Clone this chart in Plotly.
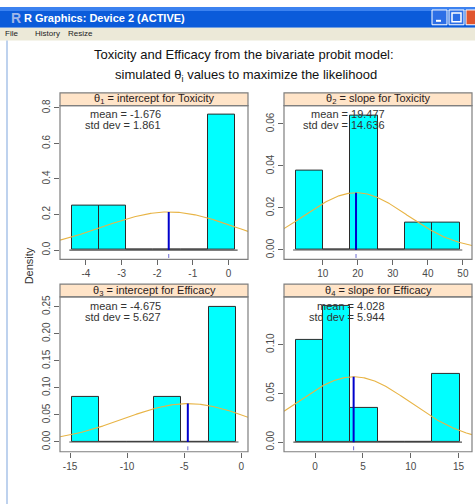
import numpy as np
import plotly.graph_objects as go

W, H = 475, 504

# ---------------- data ----------------
strip_titles = [
    "θ<sub>1</sub> = intercept for Toxicity",
    "θ<sub>2</sub> = slope for Toxicity",
    "θ<sub>3</sub> = intercept for Efficacy",
    "θ<sub>4</sub> = slope for Efficacy",
]
means = [-1.676, 19.477, -4.675, 4.028]
sds = [1.861, 14.636, 5.627, 5.944]

tl_edges = [-4.40, -3.635, -2.87, -2.105, -1.34, -0.575, 0.19]
tl_density = [0.25, 0.25, 0.0, 0.0, 0.0, 0.76]
tr_edges = [2.2, 10.02, 17.84, 25.66, 33.48, 41.30, 49.12]
tr_density = [0.038, 0.0, 0.064, 0.0, 0.0128, 0.0128]
bl_edges = [-14.85, -12.45, -10.05, -7.65, -5.25, -2.85, -0.45]
bl_density = [0.0833, 0.0, 0.0, 0.0833, 0.0, 0.25]
br_edges = [-2.02, 0.833, 3.686, 6.539, 9.392, 12.245, 15.098]
br_density = [0.105, 0.14, 0.035, 0.0, 0.0, 0.07]

tl_xticks = [-4, -3, -2, -1, 0]
tr_xticks = [10, 20, 30, 40, 50]
bl_xticks = [-15, -10, -5, 0]
br_xticks = [0, 5, 10, 15]
tl_yticks = [0.0, 0.2, 0.4, 0.6, 0.8]
tr_yticks = [0.00, 0.02, 0.04, 0.06]
bl_yticks = [0.00, 0.05, 0.10, 0.15, 0.20, 0.25]
br_yticks = [0.00, 0.05, 0.10]

# ---------------- layout geometry (pixels) ----------------
panels = [
    dict(edges=tl_edges, dens=tl_density, xt=tl_xticks, yt=tl_yticks, yfmt="%.1f",
         x0=60, x1=248, ytop=100, ybot=256, strip=87, xr=[-4.73, 0.55], yr=[-0.053, 0.813]),
    dict(edges=tr_edges, dens=tr_density, xt=tr_xticks, yt=tr_yticks, yfmt="%.2f",
         x0=284, x1=472, ytop=100, ybot=256, strip=87, xr=[-1.09, 52.6], yr=[-0.0045, 0.0687]),
    dict(edges=bl_edges, dens=bl_density, xt=bl_xticks, yt=bl_yticks, yfmt="%.2f",
         x0=60, x1=248, ytop=294, ybot=451, strip=281, xr=[-15.88, 0.6], yr=[-0.018, 0.268]),
    dict(edges=br_edges, dens=br_density, xt=br_xticks, yt=br_yticks, yfmt="%.2f",
         x0=284, x1=472, ytop=294, ybot=451, strip=281, xr=[-3.25, 16.4], yr=[-0.0098, 0.149]),
]

def px(x):
    return x / W

def py(y):
    return 1 - y / H

FONT = "Liberation Sans, Arial, sans-serif"
fig = go.Figure()
shapes = []
annotations = []
layout_axes = {}

for i, p in enumerate(panels):
    k = "" if i == 0 else str(i + 1)
    xa, ya = "x" + k, "y" + k
    edges = np.array(p["edges"])
    centers = (edges[:-1] + edges[1:]) / 2
    widths = edges[1:] - edges[:-1]
    # histogram bars
    fig.add_trace(go.Bar(x=centers, y=p["dens"], width=widths, xaxis=xa, yaxis=ya,
                         marker=dict(color="#00FFFF", line=dict(color="#2b2b2b", width=1)),
                         showlegend=False, hoverinfo="skip"))
    # baseline
    ext = 0.015 * (edges[-1] - edges[0])
    fig.add_trace(go.Scatter(x=[edges[0] - ext, edges[-1] + ext], y=[0, 0], mode="lines",
                             line=dict(color="#555555", width=1.2), xaxis=xa, yaxis=ya,
                             showlegend=False, hoverinfo="skip"))
    # normal density with the panel's mean and sd
    m, s = means[i], sds[i]
    xs = np.linspace(p["xr"][0], p["xr"][1], 200)
    ys = np.exp(-0.5 * ((xs - m) / s) ** 2) / (s * np.sqrt(2 * np.pi))
    fig.add_trace(go.Scatter(x=xs, y=ys, mode="lines", line=dict(color="#E8B445", width=1.1),
                             xaxis=xa, yaxis=ya, showlegend=False, hoverinfo="skip"))
    peak = 1 / (s * np.sqrt(2 * np.pi))
    fig.add_trace(go.Scatter(x=[m, m], y=[0, peak], mode="lines",
                             line=dict(color="#0000CC", width=2),
                             xaxis=xa, yaxis=ya, showlegend=False, hoverinfo="skip"))
    # rug tick at the mean
    shapes.append(dict(type="line", xref=xa, yref="paper", x0=m, x1=m,
                       y0=py(p["ybot"] - 1.5), y1=py(p["ybot"] - 5.5),
                       line=dict(color="#6a6ad0", width=1)))

    layout_axes["xaxis" + k] = dict(
        domain=[px(p["x0"]), px(p["x1"])], range=p["xr"], anchor=ya,
        tickvals=p["xt"], ticktext=[str(v) for v in p["xt"]],
        ticks="outside", ticklen=5, tickcolor="#666666", showline=False,
        showgrid=False, zeroline=False, fixedrange=True,
        tickfont=dict(family=FONT, size=10, color="#4a4a4a"))
    layout_axes["yaxis" + k] = dict(
        domain=[py(p["ybot"]), py(p["ytop"])], range=p["yr"], anchor=xa,
        tickvals=p["yt"], ticktext=[p["yfmt"] % v for v in p["yt"]], tickangle=-90,
        ticks="outside", ticklen=5, tickcolor="#666666", showline=False,
        showgrid=False, zeroline=False, fixedrange=True,
        tickfont=dict(family=FONT, size=10, color="#4a4a4a"))

    # panel border
    shapes.append(dict(type="rect", xref="paper", yref="paper",
                       x0=px(p["x0"]), x1=px(p["x1"]), y0=py(p["ybot"]), y1=py(p["ytop"]),
                       line=dict(color="#7f7f7f", width=1.2), fillcolor="rgba(0,0,0,0)"))
    # strip
    shapes.append(dict(type="rect", xref="paper", yref="paper",
                       x0=px(p["x0"]), x1=px(p["x1"]), y0=py(p["ytop"]), y1=py(p["strip"]),
                       line=dict(color="#7f7f7f", width=1.2), fillcolor="#FFE4C8", layer="below"))
    annotations.append(dict(text=strip_titles[i], xref="paper", yref="paper",
                            x=px((p["x0"] + p["x1"]) / 2), y=py((p["strip"] + p["ytop"]) / 2),
                            showarrow=False, xanchor="center", yanchor="middle",
                            font=dict(family=FONT, size=11, color="#2a2020")))
    # mean / sd text
    xr_text = px(p["x0"] + 0.546 * (p["x1"] - p["x0"]))
    annotations.append(dict(text="mean = %.3f" % m, xref="paper", yref="paper",
                            x=xr_text, y=py(p["ytop"] + 9), showarrow=False,
                            xanchor="right", yanchor="middle",
                            font=dict(family=FONT, size=11, color="#333333")))
    annotations.append(dict(text="std dev = %.3f" % s, xref="paper", yref="paper",
                            x=xr_text, y=py(p["ytop"] + 20), showarrow=False,
                            xanchor="right", yanchor="middle",
                            font=dict(family=FONT, size=11, color="#333333")))

# titles
annotations.append(dict(text="Toxicity and Efficacy from the bivariate probit model:",
                        xref="paper", yref="paper", x=px(244), y=py(48), showarrow=False,
                        xanchor="center", yanchor="middle",
                        font=dict(family=FONT, size=13, color="#111111")))
annotations.append(dict(text="simulated θ<sub>i</sub> values to maximize the likelihood",
                        xref="paper", yref="paper", x=px(245.5), y=py(69), showarrow=False,
                        xanchor="center", yanchor="middle",
                        font=dict(family=FONT, size=13, color="#111111")))
annotations.append(dict(text="Density", xref="paper", yref="paper", x=px(29), y=py(263),
                        showarrow=False, textangle=-90, xanchor="center", yanchor="middle",
                        font=dict(family=FONT, size=11, color="#333333")))

# ---------------- window chrome ----------------
shapes += [
    dict(type="rect", xref="paper", yref="paper", x0=0, x1=1, y0=py(21), y1=1,
         fillcolor="#0B5BDA", line=dict(width=0), layer="below"),
    dict(type="rect", xref="paper", yref="paper", x0=0, x1=1, y0=py(4), y1=1,
         fillcolor="#3C82F0", line=dict(width=0), layer="below"),
    dict(type="rect", xref="paper", yref="paper", x0=0, x1=1, y0=py(34), y1=py(21),
         fillcolor="#ECE9D8", line=dict(width=0), layer="below"),
    dict(type="line", xref="paper", yref="paper", x0=px(7), x1=px(7), y0=0, y1=py(34),
         line=dict(color="#A9C3E8", width=1.5)),
    dict(type="rect", xref="paper", yref="paper", x0=px(432), x1=px(447), y0=py(18), y1=py(3),
         fillcolor="#2D6FE6", line=dict(color="white", width=1)),
    dict(type="line", xref="paper", yref="paper", x0=px(436), x1=px(441), y0=py(14), y1=py(14),
         line=dict(color="white", width=2)),
    dict(type="rect", xref="paper", yref="paper", x0=px(449), x1=px(464), y0=py(18), y1=py(3),
         fillcolor="#2D6FE6", line=dict(color="white", width=1)),
    dict(type="rect", xref="paper", yref="paper", x0=px(452), x1=px(461), y0=py(15), y1=py(6),
         fillcolor="rgba(0,0,0,0)", line=dict(color="white", width=1.5)),
    dict(type="rect", xref="paper", yref="paper", x0=px(466), x1=px(481), y0=py(18), y1=py(3),
         fillcolor="#E0552E", line=dict(color="white", width=1)),
]
annotations += [
    dict(text="<b>R</b>", xref="paper", yref="paper", x=px(9), y=py(11), showarrow=False,
         xanchor="left", yanchor="middle", font=dict(family=FONT, size=14, color="#9FB6E8")),
    dict(text="<b>R Graphics: Device 2 (ACTIVE)</b>", xref="paper", yref="paper", x=px(22),
         y=py(11), showarrow=False, xanchor="left", yanchor="middle",
         font=dict(family=FONT, size=11, color="white")),
    dict(text="File", xref="paper", yref="paper", x=px(3), y=py(27), showarrow=False,
         xanchor="left", yanchor="middle", font=dict(family=FONT, size=8, color="#222222")),
    dict(text="History", xref="paper", yref="paper", x=px(33), y=py(27), showarrow=False,
         xanchor="left", yanchor="middle", font=dict(family=FONT, size=8, color="#222222")),
    dict(text="Resize", xref="paper", yref="paper", x=px(66), y=py(27), showarrow=False,
         xanchor="left", yanchor="middle", font=dict(family=FONT, size=8, color="#222222")),
]

fig.update_layout(width=W, height=H, margin=dict(l=0, r=0, t=0, b=0),
                  paper_bgcolor="white", plot_bgcolor="white", bargap=0,
                  showlegend=False, shapes=shapes, annotations=annotations, **layout_axes)

fig.write_html("out.html", config={"displayModeBar": False},
               post_script="document.body.style.margin='0';document.body.style.padding='0';"
                           "document.documentElement.style.overflow='hidden';"
                           "var d=document.getElementById('{plot_id}');"
                           "d.style.position='absolute';d.style.top='0px';d.style.left='0px';")
